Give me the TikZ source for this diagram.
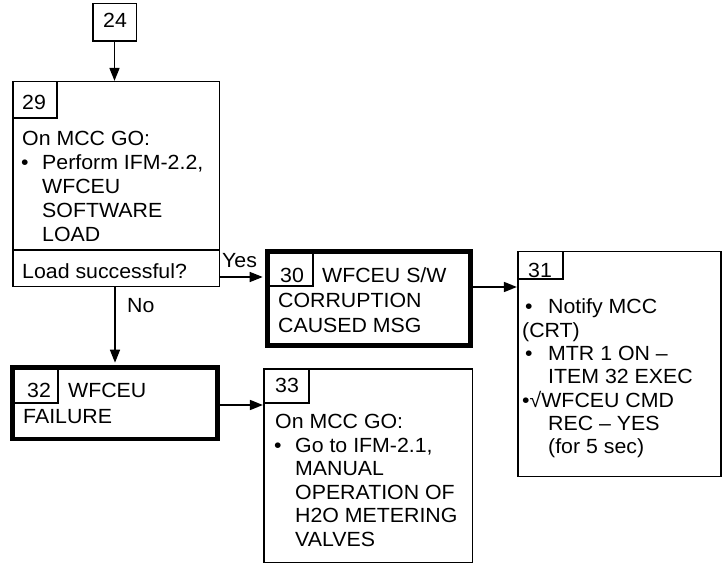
\documentclass[tikz,border=0pt]{standalone}
\usepackage{fontspec}
\setmainfont{Liberation Sans}[FakeStretch=1.04]
\usetikzlibrary{arrows.meta}
\tikzset{
  thin box/.style={draw, line width=1.6pt, rectangle, inner sep=0pt},
  thick box/.style={draw, line width=4.8pt, rectangle, inner sep=0pt},
  txt/.style={anchor=base west, inner sep=0pt, font=\fontsize{20.5}{24}\selectfont},
  arr/.style={line width=1.6pt, -{Triangle[length=13pt,width=10pt]}},
}
\begin{document}
\begin{tikzpicture}[x=1pt,y=-1pt]
\useasboundingbox (0,0) rectangle (723,564);
% boxes
\node[thin box, minimum width=43.6pt, minimum height=37.6pt] (b24) at (114.5,22.5) {};
\node[thin box, minimum width=206.6pt, minimum height=204.6pt] (b29) at (116,184) {};
\node[thin box, minimum width=44.3pt, minimum height=36.3pt] (n29) at (34.85,99.85) {};
\coordinate (d1) at (12.7,250);
\coordinate (d2) at (219.3,250);
\draw[line width=1.6pt] (d1) -- (d2);
\node[thick box, minimum width=203pt, minimum height=94pt] (b30) at (369,298.5) {};
\node[thin box, minimum width=45.5pt, minimum height=34.5pt] (n30) at (290.25,268.75) {};
\node[thin box, minimum width=203.3pt, minimum height=224.6pt] (b31) at (619.35,364) {};
\node[thin box, minimum width=45.3pt, minimum height=27.3pt] (n31) at (540.35,265.35) {};
\node[thick box, minimum width=205pt, minimum height=71.5pt] (b32) at (115,403.25) {};
\node[thin box, minimum width=45.5pt, minimum height=35.5pt] (n32) at (35.25,385.25) {};
\node[thin box, minimum width=208.6pt, minimum height=193.6pt] (b33) at (368,465.5) {};
\node[thin box, minimum width=45.3pt, minimum height=34.3pt] (n33) at (286.35,385.85) {};
% numbers
\node[txt] (t24) at (103,28) {24};
\node[txt] (t29) at (22,110) {29};
\node[txt] (t30) at (280,282) {30};
\node[txt] (t31) at (528,277) {31};
\node[txt] (t32) at (27,397) {32};
\node[txt] (t33) at (275,392) {33};
% box 29
\node[txt] (a1) at (22,146) {On MCC GO:};
\node[txt] (a2b) at (21,170) {•};
\node[txt] (a2) at (42,170) {Perform IFM-2.2,};
\node[txt] (a3) at (42,194) {WFCEU};
\node[txt] (a4) at (42,218) {SOFTWARE};
\node[txt] (a5) at (42,242) {LOAD};
\node[txt] (a6) at (22,278) {Load successful?};
% box 30
\node[txt] (c1) at (322,282) {WFCEU S/W};
\node[txt] (c2) at (278,307) {CORRUPTION};
\node[txt] (c3) at (278,332) {CAUSED MSG};
% box 31
\node[txt] (e1b) at (525,313.5) {•};
\node[txt] (e1) at (548,313.5) {Notify MCC};
\node[txt] (e2) at (522,337) {(CRT)};
\node[txt] (e3b) at (525,360) {•};
\node[txt] (e3) at (548,360) {MTR 1 ON –};
\node[txt] (e4) at (548,383.5) {ITEM 32 EXEC};
\node[txt] (e5) at (522,407) {•√WFCEU CMD};
\node[txt] (e6) at (548,430) {REC – YES};
\node[txt] (e7) at (548,453.5) {(for 5 sec)};
% box 32
\node[txt] (f1) at (68,397) {WFCEU};
\node[txt] (f2) at (23,423) {FAILURE};
% box 33
\node[txt] (g1) at (275,428.5) {On MCC GO:};
\node[txt] (g2b) at (274,452) {•};
\node[txt] (g2) at (295,452) {Go to IFM-2.1,};
\node[txt] (g3) at (295,475.5) {MANUAL};
\node[txt] (g4) at (295,499) {OPERATION OF};
\node[txt] (g5) at (295,522.5) {H2O METERING};
\node[txt] (g6) at (295,546) {VALVES};
% labels
\node[txt] (yes) at (222,268) {Yes};
\node[txt] (no) at (127,312) {No};
% connectors
\draw[arr] (b24.south) -- (b24.south |- b29.north);
\coordinate (ys) at (219.3,277);
\draw[arr, shorten >=2.4pt] (ys) -- (ys -| b30.west);
\draw[arr, shorten >=2.4pt] (b32.north |- b29.south) -- (b32.north);
\coordinate (r1) at (473,287);
\draw[arr] (r1) -- (r1 -| b31.west);
\coordinate (r2) at (219.8,405);
\draw[arr] (r2) -- (r2 -| b33.west);
\end{tikzpicture}
\end{document}
